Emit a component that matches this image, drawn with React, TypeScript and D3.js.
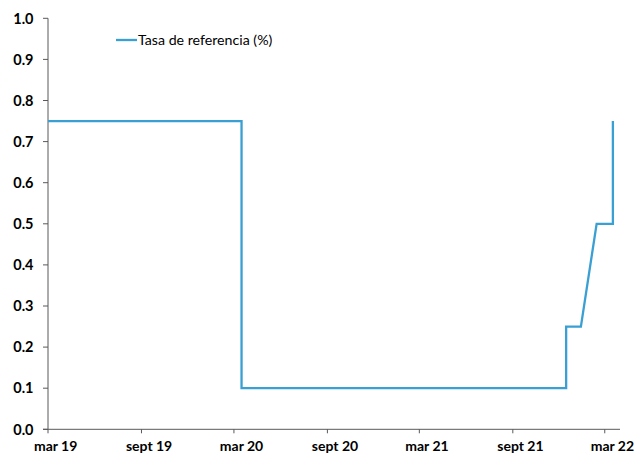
import React from "react";
import * as d3 from "d3";

const dates: string[] = [
  "2019-03-01", "2020-03-16", "2020-03-16", "2021-12-15", "2021-12-15",
  "2022-01-13", "2022-02-13", "2022-03-17", "2022-03-17",
];
const rates: number[] = [0.75, 0.75, 0.1, 0.1, 0.25, 0.25, 0.5, 0.5, 0.75];
const xTickDates: string[] = ["2019-03-01", "2019-09-01", "2020-03-01", "2020-09-01", "2021-03-01", "2021-09-01", "2022-03-01"];
const xTickLabels: string[] = ["mar 19", "sept 19", "mar 20", "sept 20", "mar 21", "sept 21", "mar 22"];
const yTicks: number[] = [0, 0.1, 0.2, 0.3, 0.4, 0.5, 0.6, 0.7, 0.8, 0.9, 1.0];
const seriesName = "Tasa de referencia (%)";

const W = 636;
const H = 455;
const COLOR = "#3a9fd3";
const FONT = "Lato, 'Open Sans', sans-serif";

export default function App() {
  const parse = d3.utcParse("%Y-%m-%d");
  const x = d3
    .scaleUtc()
    .domain([parse("2019-03-01")!, parse("2022-03-31")!])
    .range([48, 620]);
  const y = d3.scaleLinear().domain([0, 1]).range([429.3, 18.3]);

  const pts = dates.map((d, i) => ({ d: parse(d)!, v: rates[i] }));
  const line = d3
    .line<{ d: Date; v: number }>()
    .x((p) => x(p.d))
    .y((p) => y(p.v));

  const y0 = y(0);
  const xAxisX0 = x.range()[0];
  const xAxisX1 = x.range()[1];

  return (
    <svg
      width={W}
      height={H}
      style={{ position: "absolute", left: 0, top: 0, background: "#fff" }}
      fontFamily={FONT}
    >
      {/* y axis */}
      <line x1={xAxisX0} x2={xAxisX0} y1={y(1)} y2={y0} stroke="#595959" strokeWidth={1} />
      {yTicks.map((t) => (
        <g key={t}>
          <line x1={xAxisX0 - 5} x2={xAxisX0} y1={y(t)} y2={y(t)} stroke="#595959" strokeWidth={1} />
          <text
            x={33.5}
            y={y(t)}
            dy="0.36em"
            textAnchor="end"
            fontSize={14.5}
            fontWeight="bold"
            fill="#000"
          >
            {t.toFixed(1)}
          </text>
        </g>
      ))}
      {/* x axis */}
      <line x1={xAxisX0 - 5} x2={xAxisX1} y1={y0} y2={y0} stroke="#595959" strokeWidth={1} />
      {xTickDates.map((d, i) => {
        const dt = parse(d)!;
        const xx = x(dt);
        const mid = x(d3.utcDay.offset(dt, 15));
        return (
          <g key={d}>
            <line x1={xx} x2={xx} y1={y0} y2={y0 + 4} stroke="#595959" strokeWidth={1} />
            <text x={mid} y={451} textAnchor="middle" fontSize={14} fontWeight="bold" fill="#000">
              {xTickLabels[i]}
            </text>
          </g>
        );
      })}
      {/* series */}
      <path d={line(pts) ?? ""} fill="none" stroke={COLOR} strokeWidth={2.3} strokeLinejoin="miter" />
      {/* legend */}
      <line x1={116} x2={137} y1={40} y2={40} stroke={COLOR} strokeWidth={2.3} />
      <text x={138} y={40} dy="0.35em" fontSize={14.2} fill="#000">
        {seriesName}
      </text>
    </svg>
  );
}
